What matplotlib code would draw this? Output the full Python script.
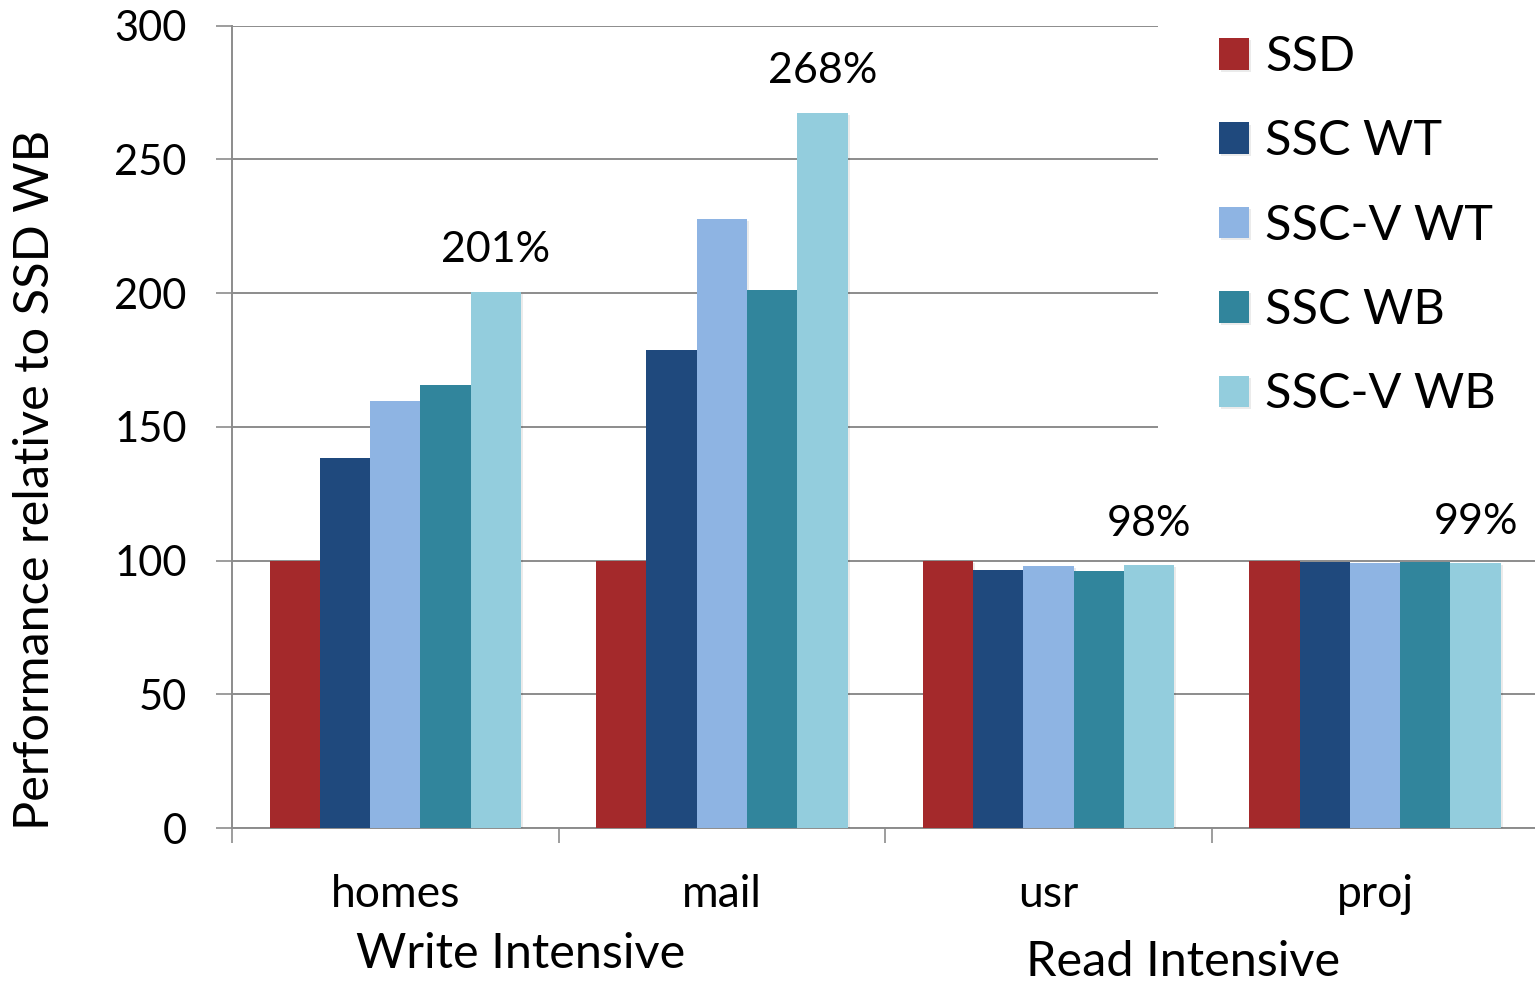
import matplotlib
matplotlib.use("Agg")
import matplotlib.pyplot as plt
import matplotlib.patheffects as pe
from matplotlib.patches import Rectangle
import numpy as np

plt.rcParams["font.family"] = ["Lato", "DejaVu Sans"]

# data
workloads = ["homes", "mail", "usr", "proj"]
series = ["SSD", "SSC WT", "SSC-V WT", "SSC WB", "SSC-V WB"]
ssd = [100, 100, 100, 100]
ssc_wt = [138.2, 178.9, 96.4, 99.5]
sscv_wt = [159.5, 227.9, 97.9, 99.0]
ssc_wb = [165.5, 201.0, 96.0, 99.4]
sscv_wb = [200.6, 267.5, 98.2, 99.0]
annot = ["201%", "268%", "98%", "99%"]
groups = ["Write Intensive", "Read Intensive"]
colors = ["#A4292B", "#1F497D", "#8EB4E3", "#31859C", "#93CDDD"]

W, H = 1535, 984
fig = plt.figure(figsize=(W / 100, H / 100), dpi=100)
ax = fig.add_axes([232 / W, 1 - 828 / H, 1 - 232 / W, (828 - 25.7) / H])

x = np.arange(len(workloads))
bw = 0.154
vals = [ssd, ssc_wt, sscv_wt, ssc_wb, sscv_wb]
shadow = [pe.SimplePatchShadow(offset=(1.5, -1.5), shadow_rgbFace="#000000", alpha=0.08), pe.Normal()]
for i, (name, v) in enumerate(zip(series, vals)):
    ax.bar(x + (i - 2) * bw, v, width=bw, color=colors[i], label=name,
           zorder=3, path_effects=shadow)

# percent labels above last bar
for xi, v, t in zip(x, sscv_wb, annot):
    ax.text(xi + 2 * bw, v + 8.5, t, ha="center", va="bottom", fontsize=31, zorder=5)

ax.set_xlim(-0.5, 3.49)
ax.set_ylim(0, 300)
ax.set_yticks(np.arange(0, 301, 50))
ax.yaxis.grid(True, color="#8c8c8c", linewidth=1.4, zorder=0)
ax.set_axisbelow(True)
ax.tick_params(axis="y", labelsize=30, length=11.5, width=1.2, color="#8c8c8c",
               pad=21, direction="out")

ax.set_xticks(x)
ax.set_xticklabels(workloads, fontsize=32)
ax.set_xticks(np.arange(-0.5, 3.5, 1.0), minor=True)
ax.tick_params(axis="x", which="major", length=0, pad=33)
ax.tick_params(axis="x", which="minor", length=11, width=1.2, color="#8c8c8c", direction="out")

for s in ["top", "right"]:
    ax.spines[s].set_visible(False)
for s in ["left", "bottom"]:
    ax.spines[s].set_color("#8c8c8c")
    ax.spines[s].set_linewidth(1.4)

# white area behind legend hides grid lines
ax.add_patch(Rectangle(((1158 - 232) / (W - 232), 0.483), 1.0, 0.6,
                       transform=ax.transAxes, facecolor="white", edgecolor="none",
                       zorder=1, clip_on=False))

leg = ax.legend(loc="upper left", bbox_to_anchor=(1219 / W, 1 - 35 / H),
                bbox_transform=fig.transFigure, frameon=False, fontsize=35,
                handlelength=0.62, handleheight=0.62, handletextpad=0.33,
                labelspacing=0.83, borderaxespad=0, borderpad=0)

fig.text(35 / W, 1 - 480 / H, "Performance relative to SSD WB", rotation=90,
         ha="center", va="center", fontsize=35)
fig.text(521 / W, 1 - 954 / H, groups[0], ha="center", va="center", fontsize=35)
fig.text(1183 / W, 1 - 962 / H, groups[1], ha="center", va="center", fontsize=35)

fig.savefig("out.png", dpi=100)
